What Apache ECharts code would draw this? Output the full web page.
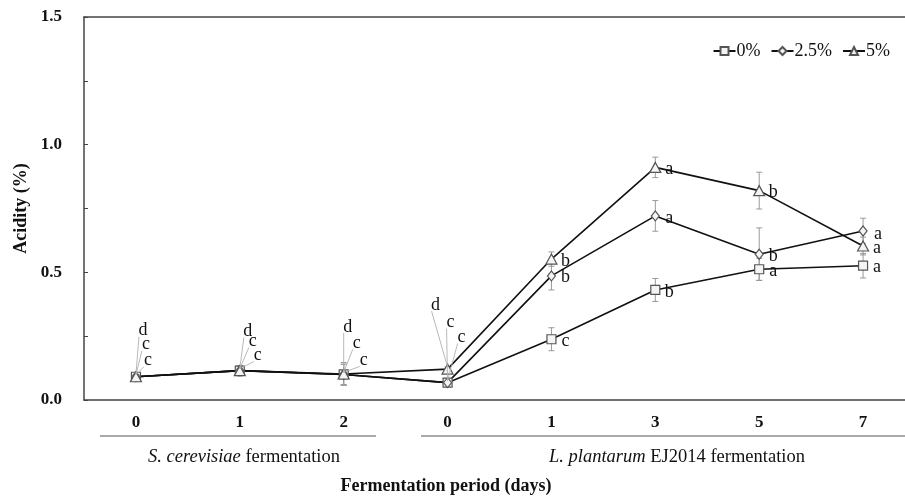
<!DOCTYPE html>
<html>
<head>
<meta charset="utf-8">
<script src="https://cdn.jsdelivr.net/npm/echarts@6/dist/echarts.min.js"></script>
<style>html,body{margin:0;padding:0;background:#fff;}#c{width:905px;height:498px;}</style>
</head>
<body>
<div id="c"></div>
<script>
// ---- data ----
var categories = ['S0', 'S1', 'S2', 'L0', 'L1', 'L3', 'L5', 'L7'];
var tickLabels = ['0', '1', '2', '0', '1', '3', '5', '7'];
var seriesNames = ['0%', '2.5%', '5%'];
var acid0 = [0.091, 0.115, 0.100, 0.068, 0.238, 0.431, 0.512, 0.526];
var acid25 = [0.091, 0.115, 0.100, 0.068, 0.486, 0.721, 0.571, 0.662];
var acid5 = [0.091, 0.115, 0.102, 0.121, 0.552, 0.911, 0.820, 0.603];
var err0 = [0.008, 0.02, 0.04, 0.008, 0.045, 0.045, 0.043, 0.048];
var err25 = [0.008, 0.02, 0.04, 0.008, 0.055, 0.06, 0.103, 0.05];
var err5 = [0.008, 0.02, 0.045, 0.008, 0.028, 0.04, 0.072, 0.035];
var letters0 = ['c', 'c', 'c', 'c', 'c', 'b', 'a', 'a'];
var letters25 = ['c', 'c', 'c', 'c', 'b', 'a', 'b', 'a'];
var letters5 = ['d', 'd', 'd', 'd', 'b', 'a', 'b', 'a'];

// ---- label placement (pixel offsets from the point; leader = draw leader line) ----
var labelOffsets = [
  [[12,-16,1],[18,-15,1],[20,-14,1],[14,-45,1],[14,2,0],[14,2,0],[14,2,0],[14,2,0]],
  [[10,-32,1],[13,-29,1],[13,-31,1],[3,-60,1],[14,1,0],[14,2,0],[14,2,0],[15,3,0]],
  [[7,-46,1],[8,-39,1],[4,-47,1],[-12,-64,1],[14,2,0],[14,2,0],[14,2,0],[14,2,0]]
];

var values = [acid0, acid25, acid5];
var errs = [err0, err25, err5];
var letters = [letters0, letters25, letters5];
var symbols = ['rect', 'diamond', 'triangle'];
var symbolSizes = [[9,9], [8,10], [11,10]];
var serif = '"Liberation Serif", "Times New Roman", serif';

var chart = echarts.init(document.getElementById('c'), null, {renderer: 'canvas'});

var series = [];
// error bars
values.forEach(function (vals, s) {
  series.push({
    type: 'custom',
    name: seriesNames[s] + ' err',
    xAxisIndex: 0, yAxisIndex: 0,
    z: 1,
    silent: true,
    data: vals.map(function (v, i) { return [i, v - errs[s][i], v + errs[s][i]]; }),
    renderItem: function (params, api) {
      var lo = api.coord([api.value(0), api.value(1)]);
      var hi = api.coord([api.value(0), api.value(2)]);
      var w = 3;
      var st = {stroke: '#9a9a9a', lineWidth: 1};
      return {type: 'group', children: [
        {type: 'line', shape: {x1: lo[0], y1: lo[1], x2: hi[0], y2: hi[1]}, style: st},
        {type: 'line', shape: {x1: lo[0]-w, y1: lo[1], x2: lo[0]+w, y2: lo[1]}, style: st},
        {type: 'line', shape: {x1: hi[0]-w, y1: hi[1], x2: hi[0]+w, y2: hi[1]}, style: st}
      ]};
    }
  });
});
// lines
values.forEach(function (vals, s) {
  series.push({
    type: 'line',
    name: seriesNames[s],
    data: vals,
    z: 3,
    symbol: symbols[s],
    symbolSize: symbolSizes[s],
    showAllSymbol: true,
    lineStyle: {color: '#111', width: 1.6},
    itemStyle: {color: '#f4f4f4', borderColor: '#555', borderWidth: 1.2},
    emphasis: {disabled: true}
  });
});
// letter labels with leader lines
values.forEach(function (vals, s) {
  series.push({
    type: 'custom',
    name: seriesNames[s] + ' lbl',
    z: 4,
    silent: true,
    data: vals.map(function (v, i) { return [i, v]; }),
    renderItem: function (params, api) {
      var i = api.value(0);
      var p = api.coord([i, api.value(1)]);
      var off = labelOffsets[s][i];
      var lx = p[0] + off[0], ly = p[1] + off[1];
      var children = [];
      if (off[2]) {
        children.push({type: 'line', shape: {x1: p[0], y1: p[1] - 2, x2: lx - 4, y2: ly + 6},
          style: {stroke: '#b0b0b0', lineWidth: 0.9}});
      }
      children.push({type: 'text', x: lx, y: ly, style: {text: letters[s][i], fill: '#111',
        font: '18px ' + serif, textAlign: 'center', textVerticalAlign: 'middle'}});
      return {type: 'group', children: children};
    }
  });
});

var option = {
  animation: false,
  backgroundColor: '#fff',
  grid: {left: 84, top: 17, width: 831, height: 383, containLabel: false, outerBoundsMode: 'none'},
  legend: {
    data: seriesNames,
    right: 10, top: 37,
    itemWidth: 22, itemHeight: 10, itemGap: 10,
    textStyle: {fontFamily: serif, fontSize: 18, color: '#111', padding: [0, 0, 0, -4]},
    selectedMode: false
  },
  xAxis: [{
    type: 'category',
    data: categories,
    boundaryGap: true,
    axisLine: {lineStyle: {color: '#444', width: 1.5}},
    axisTick: {inside: true, length: 5, lineStyle: {color: '#444'}},
    axisLabel: {
      margin: 14,
      fontFamily: serif, fontSize: 17, fontWeight: 'bold', color: '#111',
      formatter: function (v, idx) { return tickLabels[idx]; }
    }
  }, {
    type: 'category',
    data: categories,
    position: 'top',
    axisLine: {lineStyle: {color: '#444', width: 1.5}},
    axisTick: {show: false},
    axisLabel: {show: false}
  }],
  yAxis: {
    type: 'value',
    min: 0, max: 1.5, interval: 0.25,
    name: 'Acidity (%)',
    nameLocation: 'middle',
    nameRotate: 90,
    nameGap: 53,
    nameTextStyle: {fontFamily: serif, fontSize: 18, fontWeight: 'bold', color: '#111'},
    axisLine: {show: true, lineStyle: {color: '#444', width: 1.5}},
    axisTick: {show: true, inside: true, length: 4, lineStyle: {color: '#444'}},
    splitLine: {show: false},
    axisLabel: {
      margin: 22,
      fontFamily: serif, fontSize: 17, fontWeight: 'bold', color: '#111',
      formatter: function (v) {
        return Math.abs(v * 2 - Math.round(v * 2)) < 1e-6 ? v.toFixed(1) : '';
      }
    }
  },
  graphic: [
    {type: 'line', shape: {x1: 100, y1: 436, x2: 376, y2: 436}, style: {stroke: '#555', lineWidth: 1}},
    {type: 'line', shape: {x1: 421, y1: 436, x2: 905, y2: 436}, style: {stroke: '#555', lineWidth: 1}},
    {type: 'text', x: 244, y: 457, style: {
      text: '{i|S. cerevisiae} fermentation', font: '18.5px ' + serif, fill: '#111',
      textAlign: 'center', textVerticalAlign: 'middle',
      rich: {i: {fontStyle: 'italic', fontFamily: serif, fontSize: 18.5}}}},
    {type: 'text', x: 677, y: 457, style: {
      text: '{i|L. plantarum} EJ2014 fermentation', font: '18.5px ' + serif, fill: '#111',
      textAlign: 'center', textVerticalAlign: 'middle',
      rich: {i: {fontStyle: 'italic', fontFamily: serif, fontSize: 18.5}}}},
    {type: 'text', x: 446, y: 486, style: {
      text: 'Fermentation period (days)', font: 'bold 18px ' + serif, fill: '#111',
      textAlign: 'center', textVerticalAlign: 'middle'}}
  ],
  series: series
};
chart.setOption(option);
</script>
</body>
</html>
